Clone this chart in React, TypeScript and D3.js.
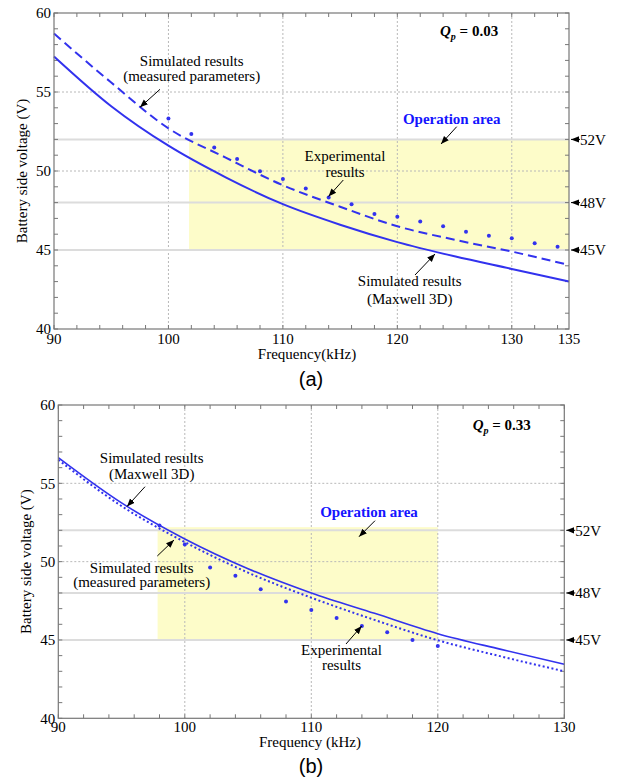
import React from 'react';
import * as d3 from 'd3';

// ---------- Panel (a) data, Qp = 0.03 ----------
const simFreqA = [90, 95, 100, 105, 110, 115, 120, 125, 130, 135];
const maxwellA = [57.25, 54.1, 51.6, 49.6, 47.9, 46.6, 45.5, 44.6, 43.8, 43.0];
const measuredA = [58.7, 55.6, 52.7, 50.85, 49.1, 47.74, 46.5, 45.65, 44.9, 44.05];
const expFreqA = [100, 102, 104, 106, 108, 110, 112, 114, 116, 118, 120, 122, 124, 126, 128, 130, 132, 134];
const expVoltA = [53.33, 52.34, 51.48, 50.76, 49.98, 49.5, 48.9, 48.33, 47.9, 47.28, 47.1, 46.8, 46.5, 46.16, 45.9, 45.74, 45.42, 45.21];
const xTicksA = [90, 100, 110, 120, 130, 135];

// ---------- Panel (b) data, Qp = 0.33 ----------
const simFreqB = [90, 95, 100, 105, 110, 115, 120, 125, 130];
const maxwellB = [56.64, 53.75, 51.45, 49.55, 48.0, 46.7, 45.4, 44.4, 43.45];
const measuredB = [56.5, 53.55, 51.25, 49.3, 47.7, 46.28, 44.98, 43.95, 43.0];
const expFreqB = [98, 100, 102, 104, 106, 108, 110, 112, 114, 116, 118, 120];
const expVoltB = [52.3, 51.1, 49.62, 49.1, 48.24, 47.45, 46.92, 46.4, 45.9, 45.5, 45.0, 44.62];
const xTicksB = [90, 100, 110, 120, 130];

const yTicks = [40, 45, 50, 55, 60];
const refVoltages = [52, 48, 45];
const refLabels = ['52V', '48V', '45V'];

const BLUE = '#3232ee';
const SERIF = '"Liberation Serif", "Times New Roman", serif';

type Note = { lines: string[]; cx: number; baselines: number[]; arrow: [number, number, number, number] };

type PanelProps = {
  left: number; right: number; top: number; bottom: number;
  xDomain: [number, number];
  xTicks: number[];
  xGrid: number[];
  simFreq: number[]; maxwell: number[]; measured: number[];
  expFreq: number[]; expVolt: number[];
  measuredDash: string;
  maxwellWidth: number;
  area: [number, number, number, number]; // x0,x1,y0,y1
  qText: string; qX: number; qY: number;
  opCx: number; opY: number; opArrow: [number, number, number, number];
  notes: Note[];
  xTitle: string; xTitleX: number; xTitleY: number;
  yTitleX: number;
  tickLabelDy: number;
  letter: string; letterY: number;
};

function Panel(p: PanelProps) {
  const x = d3.scaleLinear().domain(p.xDomain).range([p.left, p.right]);
  const y = d3.scaleLinear().domain([40, 60]).range([p.bottom, p.top]);
  const line = d3.line<[number, number]>().x(d => x(d[0])).y(d => y(d[1])).curve(d3.curveMonotoneX);
  const maxPts = p.simFreq.map((f, i) => [f, p.maxwell[i]] as [number, number]);
  const measPts = p.simFreq.map((f, i) => [f, p.measured[i]] as [number, number]);
  const minorX = d3.range(p.xDomain[0], p.xDomain[1] + 0.001, 2);
  const minorY = d3.range(40, 60.001, 1);
  const tl = 4;
  return (
    <g>
      <rect x={x(p.area[0])} y={y(p.area[3])} width={x(p.area[1]) - x(p.area[0])} height={y(p.area[2]) - y(p.area[3])} fill="#fdfcc9" />
      {p.xGrid.map(v => (
        <line key={'gx' + v} x1={x(v)} x2={x(v)} y1={p.top} y2={p.bottom} stroke="#b8b8b8" strokeDasharray="2,2" strokeWidth={1} />
      ))}
      {[50, 55].map(v => (
        <line key={'gy' + v} x1={p.left} x2={p.right} y1={y(v)} y2={y(v)} stroke="#b8b8b8" strokeDasharray="2,2" strokeWidth={1} />
      ))}
      {refVoltages.map(v => (
        <line key={'rv' + v} x1={p.left} x2={p.right} y1={y(v)} y2={y(v)} stroke="#dcdcdc" strokeWidth={2} />
      ))}
      {/* ticks */}
      {minorX.map(v => (
        <g key={'tx' + v}>
          <line x1={x(v)} x2={x(v)} y1={p.bottom} y2={p.bottom - tl} stroke="#777" />
          <line x1={x(v)} x2={x(v)} y1={p.top} y2={p.top + tl} stroke="#777" />
        </g>
      ))}
      {minorY.map(v => (
        <g key={'ty' + v}>
          <line x1={p.left} x2={p.left + tl} y1={y(v)} y2={y(v)} stroke="#777" />
          <line x1={p.right} x2={p.right - tl} y1={y(v)} y2={y(v)} stroke="#777" />
        </g>
      ))}
      {/* curves */}
      <path d={line(measPts) || ''} fill="none" stroke={BLUE} strokeWidth={2} strokeDasharray={p.measuredDash} />
      <path d={line(maxPts) || ''} fill="none" stroke={BLUE} strokeWidth={p.maxwellWidth} />
      {p.expFreq.map((f, i) => (
        <circle key={'e' + i} cx={x(f)} cy={y(p.expVolt[i])} r={2} fill={BLUE} />
      ))}
      {/* frame */}
      <rect x={p.left} y={p.top} width={p.right - p.left} height={p.bottom - p.top} fill="none" stroke="#777" strokeWidth={1.2} />
      {/* tick labels */}
      {p.xTicks.map(v => (
        <text key={'xl' + v} x={x(v)} y={p.bottom + p.tickLabelDy} textAnchor="middle" fontFamily={SERIF} fontSize={15}>{v}</text>
      ))}
      {yTicks.map(v => (
        <text key={'yl' + v} x={p.left - 3} y={y(v)} dy="0.35em" textAnchor="end" fontFamily={SERIF} fontSize={15}>{v}</text>
      ))}
      {/* right reference labels */}
      {refVoltages.map((v, i) => (
        <g key={'rl' + v}>
          <line x1={p.right + 11} x2={p.right + 2} y1={y(v)} y2={y(v)} stroke="#000" strokeWidth={1} markerEnd="url(#arrowHead)" />
          <text x={p.right + 11} y={y(v)} dy="0.35em" fontFamily={SERIF} fontSize={15}>{refLabels[i]}</text>
        </g>
      ))}
      {/* axis titles */}
      <text x={p.xTitleX} y={p.xTitleY} textAnchor="middle" fontFamily={SERIF} fontSize={15}>{p.xTitle}</text>
      <text transform={`translate(${p.yTitleX},${(p.top + p.bottom) / 2}) rotate(-90)`} textAnchor="middle" fontFamily={SERIF} fontSize={15}>Battery side voltage (V)</text>
      {/* Qp */}
      <text x={p.qX} y={p.qY} fontFamily={SERIF} fontSize={15} fontWeight="bold">
        <tspan fontStyle="italic">Q</tspan>
        <tspan fontStyle="italic" fontSize={10} dy={4}>p</tspan>
        <tspan dy={-4}>{' = ' + p.qText}</tspan>
      </text>
      {/* operation area */}
      <text x={p.opCx} y={p.opY} textAnchor="middle" fontFamily={SERIF} fontSize={15} fontWeight="bold" fill="#1414ff">Operation area</text>
      <line x1={p.opArrow[0]} y1={p.opArrow[1]} x2={p.opArrow[2]} y2={p.opArrow[3]} stroke="#000" strokeWidth={1} markerEnd="url(#arrowHead)" />
      {/* notes */}
      {p.notes.map((n, i) => (
        <g key={'n' + i}>
          {n.lines.map((t, j) => (
            <text key={j} x={n.cx} y={n.baselines[j]} textAnchor="middle" fontFamily={SERIF} fontSize={15}>{t}</text>
          ))}
          <line x1={n.arrow[0]} y1={n.arrow[1]} x2={n.arrow[2]} y2={n.arrow[3]} stroke="#000" strokeWidth={1} markerEnd="url(#arrowHead)" />
        </g>
      ))}
      <text x={311} y={p.letterY} textAnchor="middle" fontFamily='"Liberation Sans", Arial, sans-serif' fontSize={20}>{p.letter}</text>
    </g>
  );
}

export default function App() {
  return (
    <svg width={621} height={780} style={{ position: 'absolute', left: 0, top: 0, background: '#fff' }}>
      <defs>
        <marker id="arrowHead" viewBox="0 0 10 10" refX={10} refY={5} markerWidth={8} markerHeight={8} markerUnits="userSpaceOnUse" orient="auto">
          <path d="M0,1 L10,5 L0,9 z" fill="#000" />
        </marker>
      </defs>
      <Panel
        left={54} right={569} top={13} bottom={329}
        xDomain={[90, 135]} xTicks={xTicksA} xGrid={[100, 110, 120, 130]}
        simFreq={simFreqA} maxwell={maxwellA} measured={measuredA}
        expFreq={expFreqA} expVolt={expVoltA}
        measuredDash="9,5" maxwellWidth={2}
        area={[101.8, 135, 45, 52]}
        qText="0.03" qX={440} qY={36}
        opCx={451.7} opY={124} opArrow={[456.7, 126.7, 441, 144]}
        notes={[
          { lines: ['Simulated results', '(measured parameters)'], cx: 191.7, baselines: [65.5, 80.5], arrow: [160, 89.3, 140, 107.3] },
          { lines: ['Experimental', 'results'], cx: 345, baselines: [161, 176.5], arrow: [343.3, 180, 328.5, 196.5] },
          { lines: ['Simulated results', '(Maxwell 3D)'], cx: 409.7, baselines: [286, 304], arrow: [415, 275, 435, 254] },
        ]}
        xTitle="Frequency(kHz)" xTitleX={307} xTitleY={359}
        yTitleX={27}
        tickLabelDy={15}
        letter="(a)" letterY={386}
      />
      <Panel
        left={58.3} right={564.3} top={405} bottom={718.3}
        xDomain={[90, 130]} xTicks={xTicksB} xGrid={[100, 110, 120]}
        simFreq={simFreqB} maxwell={maxwellB} measured={measuredB}
        expFreq={expFreqB} expVolt={expVoltB}
        measuredDash="2,2.5" maxwellWidth={1.6}
        area={[97.85, 120, 45, 52.2]}
        qText="0.33" qX={472.7} qY={430}
        opCx={369} opY={517} opArrow={[375, 520.7, 359, 536.7]}
        notes={[
          { lines: ['Simulated results', '(Maxwell 3D)'], cx: 151.7, baselines: [462.5, 479], arrow: [145, 486.7, 127, 506.5] },
          { lines: ['Simulated results', '(measured parameters)'], cx: 141.7, baselines: [572.7, 587.3], arrow: [157.3, 556, 174, 540] },
          { lines: ['Experimental', 'results'], cx: 341.5, baselines: [655, 670], arrow: [346, 644, 361.7, 626] },
        ]}
        xTitle="Frequency (kHz)" xTitleX={310} xTitleY={747}
        yTitleX={31}
        tickLabelDy={13.5}
        letter="(b)" letterY={773}
      />
    </svg>
  );
}
